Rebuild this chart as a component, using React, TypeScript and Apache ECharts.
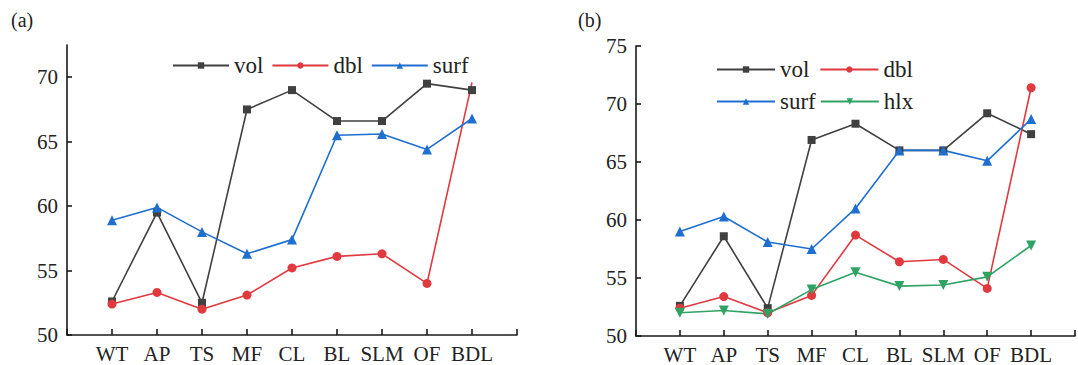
import React, { useEffect, useRef } from "react";
import * as echarts from "echarts";

const categories = ["WT", "AP", "TS", "MF", "CL", "BL", "SLM", "OF", "BDL"];
const volA = [52.6, 59.5, 52.5, 67.5, 69.0, 66.6, 66.6, 69.5, 69.0];
const dblA = [52.4, 53.3, 52.0, 53.1, 55.2, 56.1, 56.3, 54.0, 69.6];
const surfA = [58.9, 59.9, 58.0, 56.3, 57.4, 65.5, 65.6, 64.4, 66.8];
const volB = [52.6, 58.6, 52.4, 66.9, 68.3, 66.0, 66.0, 69.2, 67.4];
const dblB = [52.4, 53.4, 52.0, 53.5, 58.7, 56.4, 56.6, 54.1, 71.4];
const surfB = [59.0, 60.3, 58.1, 57.5, 61.0, 66.0, 66.0, 65.1, 68.7];
const hlxB = [52.0, 52.2, 51.9, 54.0, 55.5, 54.3, 54.4, 55.1, 57.8];
const yTicksA = [50, 55, 60, 65, 70];
const yTicksB = [50, 55, 60, 65, 70, 75];

const FONT = "Liberation Serif";
const AXIS_COLOR = "#1a1a1a";
const TEXT_COLOR = "#222";
const C_VOL = "#404040";
const C_DBL = "#e0393e";
const C_SURF = "#1f6fd1";
const C_HLX = "#2ea363";

const pad = (arr: any[]) => [null, ...arr, null];

export default function App() {
  const ref = useRef<HTMLDivElement>(null);
  useEffect(() => {
    if (!ref.current) return;
    const chart = echarts.init(ref.current, undefined, { renderer: "svg" });
    const xCats = ["", ...categories, ""];
    const xAxisBase = (gridIndex: number) => ({
      type: "category",
      gridIndex,
      data: xCats,
      boundaryGap: false,
      axisLine: { show: true, lineStyle: { color: AXIS_COLOR, width: 1.6 } },
      axisTick: { show: true, inside: true, length: 6, interval: 0, lineStyle: { color: AXIS_COLOR, width: 1.6 } },
      axisLabel: { interval: 0, margin: 8, fontSize: 21, fontFamily: FONT, color: TEXT_COLOR },
      splitLine: { show: false },
    });
    const yAxisBase = (gridIndex: number, max: number, ticks: number[]) => ({
      type: "value",
      gridIndex,
      min: 50,
      max,
      interval: 5,
      axisLine: { show: true, lineStyle: { color: AXIS_COLOR, width: 1.6 } },
      axisTick: { show: true, inside: true, length: 5, customValues: ticks, lineStyle: { color: AXIS_COLOR, width: 1.6 } },
      axisLabel: { margin: 9, fontSize: 21, fontFamily: FONT, color: TEXT_COLOR, customValues: ticks },
      splitLine: { show: false },
    });
    const lineSeries = (name: string, data: any[], color: string, symbol: string, size: number, idx: number, rotate = 0) => ({
      type: "line",
      name,
      xAxisIndex: idx,
      yAxisIndex: idx,
      data,
      symbol,
      symbolSize: size,
      symbolRotate: rotate,
      lineStyle: { color, width: 1.6 },
      itemStyle: { color },
      connectNulls: false,
    });
    const dblAData: any[] = pad(dblA);
    dblAData[9] = { value: dblA[8], symbol: "none" };
    const legendText = { fontSize: 23, fontFamily: FONT, color: TEXT_COLOR };
    chart.setOption({
      animation: false,
      graphic: [
        { type: "text", left: 11, top: 10, style: { text: "(a)", font: `20px ${FONT}`, fill: TEXT_COLOR } },
        { type: "text", left: 578, top: 10, style: { text: "(b)", font: `20px ${FONT}`, fill: TEXT_COLOR } },
      ],
      legend: [
        { data: ["vol", "dbl", "surf"], left: 172, top: 54, padding: 0, itemWidth: 56, itemHeight: 8, itemGap: 8, textStyle: legendText },
        { data: ["vol", "dbl"], left: 716, top: 58, padding: 0, itemWidth: 58, itemHeight: 8, itemGap: 10, textStyle: legendText },
        { data: ["surf", "hlx"], left: 716, top: 90, padding: 0, itemWidth: 58, itemHeight: 8, itemGap: 4, textStyle: legendText },
      ],
      grid: [
        { left: 67, top: 45, width: 450, height: 290 },
        { left: 636, top: 46, width: 451, height: 290 },
      ],
      xAxis: [xAxisBase(0), xAxisBase(1)],
      yAxis: [yAxisBase(0, 72.5, yTicksA), yAxisBase(1, 75, yTicksB)],
      series: [
        lineSeries("vol", pad(volA), C_VOL, "rect", 8, 0),
        lineSeries("dbl", dblAData, C_DBL, "circle", 9, 0),
        lineSeries("surf", pad(surfA), C_SURF, "triangle", 10, 0),
        lineSeries("vol", pad(volB), C_VOL, "rect", 8, 1),
        lineSeries("dbl", pad(dblB), C_DBL, "circle", 9, 1),
        lineSeries("surf", pad(surfB), C_SURF, "triangle", 10, 1),
        lineSeries("hlx", pad(hlxB), C_HLX, "triangle", 10, 1, 180),
      ],
    });
    return () => chart.dispose();
  }, []);
  return (
    <div
      ref={ref}
      style={{ position: "absolute", left: 0, top: 0, width: 1078, height: 365, background: "#fff" }}
    />
  );
}
